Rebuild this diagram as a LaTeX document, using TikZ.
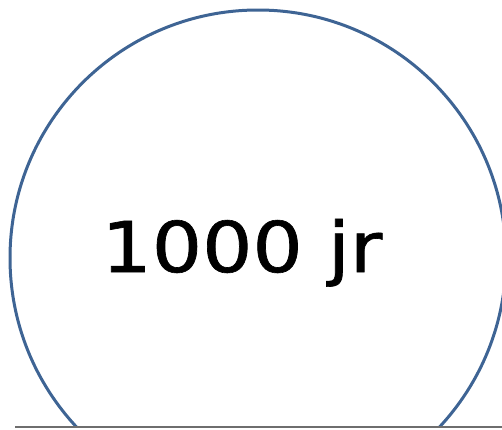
\documentclass[tikz,border=0pt]{standalone}
\usepackage{fontspec}
\newfontfamily\handfont[FakeBold=0.9]{DejaVu Sans}
\definecolor{ringblue}{HTML}{3E6494}
\definecolor{floorgray}{HTML}{6E6E6E}
\tikzset{ring/.style={draw=ringblue,line width=3pt},
floor/.style={draw=floorgray,line width=1.3pt},
label/.style={font=\handfont\fontsize{70}{80}\selectfont,anchor=base,inner sep=0pt}}
\begin{document}
\begin{tikzpicture}[x=1pt,y=-1pt]
\useasboundingbox (0,0) rectangle (502,429);
\clip (0,0) rectangle (502,427);
\node[ring,circle,minimum size=496pt,inner sep=0pt] (c) at (258,258) {};
\coordinate (fl) at (15,427);
\coordinate (fr) at (502,427);
\draw[floor] (fl) -- (fr);
\node[label,xscale=1.13] (t) at (242,272) {1000 jr};
\end{tikzpicture}
\end{document}
